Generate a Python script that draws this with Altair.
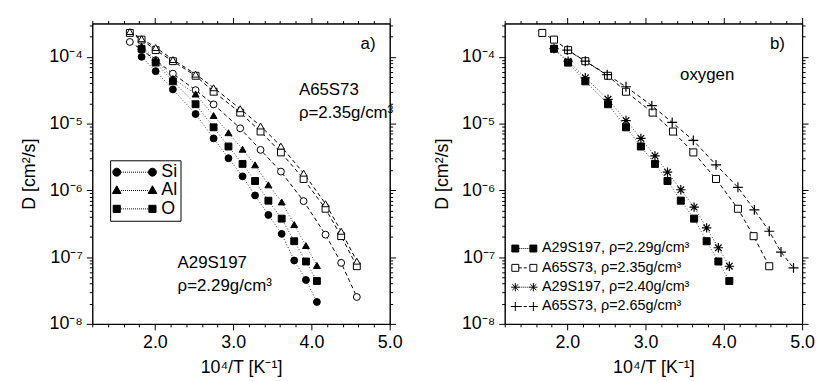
import altair as alt
import pandas as pd

FONT = "Liberation Sans"

# ---------------- data ----------------
# x = 10^4/T [1/K]
x_a65 = [1.68, 1.83, 2.01, 2.23, 2.52, 2.75, 3.09, 3.35, 3.61, 3.90, 4.18, 4.38, 4.58]
x_a29 = [1.83, 2.01, 2.23, 2.52, 2.75, 2.94, 3.12, 3.28, 3.45, 3.62, 3.78, 3.93, 4.07]
x_a65_265 = [2.00, 2.23, 2.51, 2.75, 3.08, 3.34, 3.61, 3.90, 4.18, 4.39, 4.58, 4.73, 4.89]

# D [cm^2/s]
d_a65_si = [1.67e-4, 1.29e-4, 8.9e-5, 5.6e-5, 3.17e-5, 1.94e-5, 8.5e-6, 4.04e-6, 1.91e-6, 6.9e-7, 2.17e-7, 8.2e-8, 2.53e-8]
d_a65_al = [2.39e-4, 1.87e-4, 1.38e-4, 9.1e-5, 5.5e-5, 3.44e-5, 1.67e-5, 9.2e-6, 4.6e-6, 1.81e-6, 6.3e-7, 2.44e-7, 8.7e-8]
d_a65_o = [2.28e-4, 1.81e-4, 1.26e-4, 8.6e-5, 5.2e-5, 3.0e-5, 1.46e-5, 7.6e-6, 3.7e-6, 1.48e-6, 5.3e-7, 2.06e-7, 7.3e-8]
d_a29_si = [1.0e-4, 6.1e-5, 3.25e-5, 1.39e-5, 6.0e-6, 3.03e-6, 1.62e-6, 8.4e-7, 4.28e-7, 2.23e-7, 8.9e-8, 4.54e-8, 2.13e-8]
d_a29_al = [1.44e-4, 9.1e-5, 4.74e-5, 2.77e-5, 1.32e-5, 7.3e-6, 4.13e-6, 2.41e-6, 1.21e-6, 6.7e-7, 3.07e-7, 1.49e-7, 7.5e-8]
d_a29_o = [1.32e-4, 8.2e-5, 4.3e-5, 1.95e-5, 8.8e-6, 4.54e-6, 2.49e-6, 1.38e-6, 7.0e-7, 3.77e-7, 1.73e-7, 8.6e-8, 4.39e-8]
d_a29_240_o = [1.33e-4, 8.6e-5, 4.86e-5, 2.31e-5, 1.11e-5, 6.0e-6, 3.28e-6, 1.87e-6, 1.02e-6, 5.6e-7, 2.74e-7, 1.38e-7, 7.3e-8]
d_a65_265_o = [1.26e-4, 8.6e-5, 5.4e-5, 3.56e-5, 1.86e-5, 1.04e-5, 5.6e-6, 2.41e-6, 1.11e-6, 5.1e-7, 2.44e-7, 1.19e-7, 6.9e-8]

elements = ["Si", "Al", "O"]
right_names = ["A29S197, ρ=2.29g/cm³", "A65S73, ρ=2.35g/cm³",
               "A29S197, ρ=2.40g/cm³", "A65S73, ρ=2.65g/cm³"]

# axis ticks
x_domain = [1.2, 5.0]
x_ticks = [1.2, 1.4, 1.6, 1.8, 2.0, 2.2, 2.4, 2.6, 2.8, 3.0, 3.2, 3.4, 3.6, 3.8,
           4.0, 4.2, 4.4, 4.6, 4.8, 5.0]
y_domain = [1e-8, 3.16e-4]
y_ticks = [1e-8, 2e-8, 3e-8, 4e-8, 5e-8, 6e-8, 7e-8, 8e-8, 9e-8,
           1e-7, 2e-7, 3e-7, 4e-7, 5e-7, 6e-7, 7e-7, 8e-7, 9e-7,
           1e-6, 2e-6, 3e-6, 4e-6, 5e-6, 6e-6, 7e-6, 8e-6, 9e-6,
           1e-5, 2e-5, 3e-5, 4e-5, 5e-5, 6e-5, 7e-5, 8e-5, 9e-5,
           1e-4, 2e-4, 3e-4]

# ---------------- styles ----------------
DASH = [4, 3]
DOT = [1, 2]
AST = "M0,-1L0,1M-1,0L1,0M-0.7,-0.7L0.7,0.7M-0.7,0.7L0.7,-0.7"
PLUS = "M-1,0L1,0M0,-1L0,1"

XT = "abs(datum.value - round(datum.value)) < 0.01"
YT = "abs(log(datum.value)/LN10 - round(log(datum.value)/LN10)) < 0.01"
SUP = "['⁰','¹','²','³','⁴','⁵','⁶','⁷','⁸','⁹']"


def x_axis(main):
    if main:
        return alt.Axis(orient="bottom", values=x_ticks, grid=False,
                        labelExpr=f"{XT} ? format(datum.value, '.1f') : ''",
                        tickSize={"condition": {"test": XT, "value": 6}, "value": 3},
                        labelFlush=False, labelOverlap=False, labelPadding=4,
                        title="10⁴/T [K⁻¹]", titlePadding=7)
    return alt.Axis(orient="top", values=x_ticks, grid=False, labels=False, title=None,
                    tickSize={"condition": {"test": XT, "value": 6}, "value": 3})


def y_axis(main):
    if main:
        return alt.Axis(orient="left", values=y_ticks, grid=False,
                        labelExpr=f"{YT} ? '10⁻' + {SUP}[-round(log(datum.value)/LN10)] : ''",
                        tickSize={"condition": {"test": YT, "value": 6}, "value": 3},
                        labelFlush=False, labelOverlap=False, labelPadding=4,
                        minExtent=46, maxExtent=46,
                        title="D [cm²/s]", titlePadding=8)
    return alt.Axis(orient="right", values=y_ticks, grid=False, labels=False, title=None,
                    tickSize={"condition": {"test": YT, "value": 6}, "value": 3})


def xenc(axis):
    return alt.X("x:Q", scale=alt.Scale(domain=x_domain, nice=False, zero=False), axis=axis)


def yenc(axis):
    return alt.Y("D:Q", scale=alt.Scale(type="log", domain=y_domain, nice=False), axis=axis)


def fmt(v):
    return f"{v:.3f}"


def circ(cx):
    return f"M{fmt(cx-1)},0A1,1 0 1,1 {fmt(cx+1)},0A1,1 0 1,1 {fmt(cx-1)},0Z"


def tri(cx):
    return f"M{fmt(cx)},-1.2L{fmt(cx+1.1)},0.75L{fmt(cx-1.1)},0.75Z"


def sq(cx, h):
    return f"M{fmt(cx-h)},{fmt(-h)}L{fmt(cx+h)},{fmt(-h)}L{fmt(cx+h)},{fmt(h)}L{fmt(cx-h)},{fmt(h)}Z"


def ast(cx, a):
    b = a * 0.72
    return (f"M{fmt(cx)},{fmt(-a)}L{fmt(cx)},{fmt(a)}M{fmt(cx-a)},0L{fmt(cx+a)},0"
            f"M{fmt(cx-b)},{fmt(-b)}L{fmt(cx+b)},{fmt(b)}M{fmt(cx-b)},{fmt(b)}L{fmt(cx+b)},{fmt(-b)}")


def plus(cx, a):
    return f"M{fmt(cx-a)},0L{fmt(cx+a)},0M{fmt(cx)},{fmt(-a)}L{fmt(cx)},{fmt(a)}"


def segs(x0, x1, step, length):
    out = []
    x = x0
    while x + length <= x1 + 1e-9:
        out.append(f"M{fmt(x)},0L{fmt(x+length)},0")
        x += step
    return "".join(out)


def build_panel(series, texts, legend_layer):
    layers = []
    for i, s in enumerate(series):
        df = pd.DataFrame({"x": s["x"], "D": s["d"]})
        ax = x_axis(True) if i == 0 else (x_axis(False) if i == 1 else None)
        ay = y_axis(True) if i == 0 else (y_axis(False) if i == 1 else None)
        layers.append(
            alt.Chart(df).mark_line(color=s["lc"], strokeWidth=1, strokeDash=s["dash"])
            .encode(x=xenc(ax), y=yenc(ay))
        )
    for s in series:
        df = pd.DataFrame({"x": s["x"], "D": s["d"]})
        if s["fill"] is None:
            mk = alt.Chart(df).mark_point(shape=s["shape"], size=s["size"], filled=False,
                                          stroke="black", strokeWidth=1.2, opacity=1)
        else:
            mk = alt.Chart(df).mark_point(shape=s["shape"], size=s["size"], filled=True,
                                          fill=s["fill"], stroke="black", strokeWidth=1, opacity=1)
        layers.append(mk.encode(x=xenc(None), y=yenc(None)))
    for align, rows in texts.items():
        tdf = pd.DataFrame(rows, columns=["x", "D", "t"])
        layers.append(
            alt.Chart(tdf).mark_text(align=align, baseline="middle", font=FONT,
                                     fontSize=17, color="black")
            .encode(x=xenc(None), y=yenc(None), text="t:N")
        )
    layers.append(legend_layer)
    return (alt.layer(*layers)
            .resolve_axis(x="independent", y="independent")
            .properties(width=300, height=303))


def legend_layer(field, names, paths, fills, leg):
    return (
        alt.Chart(pd.DataFrame({field: names})).transform_filter("false")
        .mark_point(filled=False, strokeWidth=1, opacity=1)
        .encode(
            shape=alt.Shape(f"{field}:N", scale=alt.Scale(domain=names, range=paths), legend=leg),
            fill=alt.Fill(f"{field}:N", scale=alt.Scale(domain=names, range=fills), legend=leg),
            stroke=alt.Stroke(f"{field}:N", scale=alt.Scale(domain=names, range=["black"] * len(names)),
                              legend=leg),
        )
    )


# ---------------- left panel ----------------
left_series = [
    dict(x=x_a65, d=d_a65_o, shape="square", fill="white", dash=DASH, lc="black", size=48),
    dict(x=x_a65, d=d_a65_al, shape="triangle-up", fill="white", dash=DASH, lc="black", size=48),
    dict(x=x_a65, d=d_a65_si, shape="circle", fill="white", dash=DASH, lc="black", size=48),
    dict(x=x_a29, d=d_a29_si, shape="circle", fill="black", dash=DOT, lc="#444", size=48),
    dict(x=x_a29, d=d_a29_al, shape="triangle-up", fill="black", dash=DOT, lc="#444", size=48),
    dict(x=x_a29, d=d_a29_o, shape="square", fill="black", dash=DOT, lc="#444", size=48),
]
left_texts = {
    "left": [(3.84, 3.14e-5, "A65S73"), (3.84, 1.43e-5, "ρ=2.35g/cm³"),
             (2.29, 8.2e-8, "A29S197"), (2.29, 3.73e-8, "ρ=2.29g/cm³")],
    "right": [(4.82, 1.58e-4, "a)")],
}
dots_l = segs(-3.4, 3.4, 0.5, 0.25)
left_paths = [circ(-4.5) + dots_l + circ(4.5),
              tri(-4.5) + dots_l + tri(4.5),
              sq(-4.5, 0.9) + dots_l + sq(4.5, 0.9)]
l_leg = alt.Legend(title=None, orient="none", legendX=18, legendY=138,
                   symbolSize=64, symbolOffset=12.7, labelOffset=18,
                   labelFont=FONT, labelFontSize=18, labelColor="black",
                   rowPadding=0.5, padding=3, strokeColor="black",
                   fillColor="white", symbolStrokeWidth=1, labelLimit=0)
left_legend = legend_layer("element", elements, left_paths, ["black"] * 3, l_leg)

# ---------------- right panel ----------------
right_series = [
    dict(x=x_a29, d=d_a29_o, shape="square", fill="black", dash=DOT, lc="#444", size=50),
    dict(x=x_a65, d=d_a65_o, shape="square", fill="white", dash=DASH, lc="black", size=50),
    dict(x=x_a29, d=d_a29_240_o, shape=AST, fill=None, dash=DOT, lc="#444", size=90),
    dict(x=x_a65_265, d=d_a65_265_o, shape=PLUS, fill=None, dash=DASH, lc="black", size=100),
]
right_texts = {
    "left": [(3.44, 5.26e-5, "oxygen")],
    "right": [(4.78, 1.58e-4, "b)")],
}
dot_r = segs(-1.6, 1.6, 0.57, 0.29)
dash_r = segs(-1.6, 1.6, 1.43, 0.86)
right_paths = [sq(-2.6, 1.0) + dot_r + sq(2.6, 1.0),
               sq(-2.6, 1.0) + dash_r + sq(2.6, 1.0),
               ast(-2.6, 1.2) + dot_r + ast(2.6, 1.2),
               plus(-2.6, 1.3) + dash_r + plus(2.6, 1.3)]
r_leg = alt.Legend(title=None, orient="none", legendX=2, legendY=219.75,
                   symbolSize=49, symbolOffset=10.55, labelOffset=10.5,
                   labelFont=FONT, labelFontSize=14.5, labelColor="black",
                   rowPadding=4.5, padding=0, symbolStrokeWidth=1, labelLimit=0)
right_legend = legend_layer("series", right_names, right_paths,
                            ["black", "white", "transparent", "transparent"], r_leg)

left = build_panel(left_series, left_texts, left_legend)
right = build_panel(right_series, right_texts, right_legend)

chart = (
    alt.hconcat(left, right, spacing=116, bounds="flush")
    .resolve_scale(shape="independent", fill="independent", stroke="independent")
    .resolve_legend(shape="independent", fill="independent", stroke="independent")
    .properties(padding={"left": 12, "top": 6, "right": 0, "bottom": 0})
    .configure_view(stroke="black", strokeWidth=1)
    .configure_axis(labelFont=FONT, titleFont=FONT, labelFontSize=18, titleFontSize=18,
                    titleFontWeight="normal", labelColor="black", titleColor="black",
                    domainColor="black", tickColor="black", domainWidth=1, tickWidth=1)
)

chart.save("out.html", embed_options={"renderer": "svg", "actions": False})
